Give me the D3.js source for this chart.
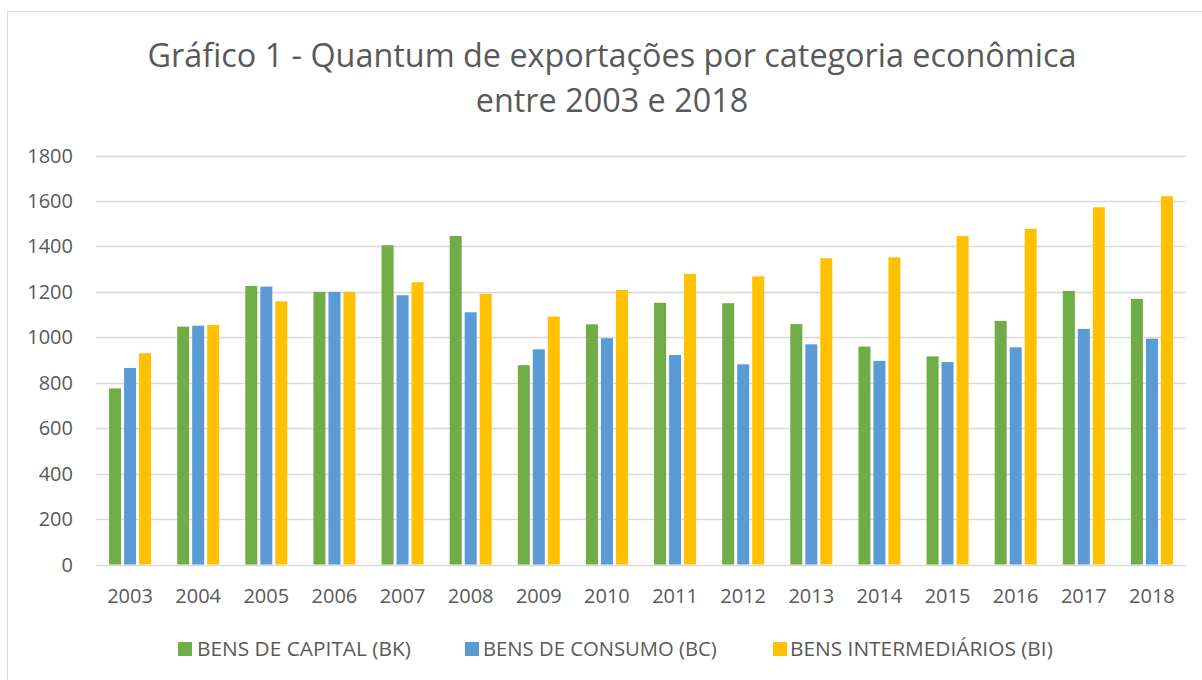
<!DOCTYPE html>
<html>
<head>
<meta charset="utf-8">
<script src="https://cdn.jsdelivr.net/npm/d3@7"></script>
<style>
  html, body { margin: 0; padding: 0; background: #fff; }
  svg { display: block; }
  text { font-family: "Open Sans", "DejaVu Sans", sans-serif; fill: #595959; }
</style>
</head>
<body>
<svg id="chart" width="1202" height="680"></svg>
<script>
const years = ["2003","2004","2005","2006","2007","2008","2009","2010","2011","2012","2013","2014","2015","2016","2017","2018"];
const seriesNames = ["BENS DE CAPITAL (BK)", "BENS DE CONSUMO (BC)", "BENS INTERMEDIÁRIOS (BI)"];
const bk = [775, 1047, 1226, 1200, 1405, 1446, 877, 1057, 1152, 1150, 1058, 959, 916, 1072, 1204, 1169];
const bc = [865, 1051, 1223, 1200, 1185, 1110, 947, 996, 922, 881, 969, 896, 891, 956, 1037, 994];
const bi = [930, 1054, 1158, 1200, 1242, 1191, 1091, 1208, 1279, 1268, 1348, 1352, 1445, 1477, 1572, 1621];
const yTicks = [0, 200, 400, 600, 800, 1000, 1200, 1400, 1600, 1800];
const colors = ["#70ad47", "#5b9bd5", "#ffc000"];
const titleLines = ["Gráfico 1 - Quantum de exportações por categoria econômica", "entre 2003 e 2018"];

const seriesData = [bk, bc, bi];
const svg = d3.select("#chart");

// chart border (cropped on right and bottom)
svg.append("rect").attr("x", 7.5).attr("y", 11.5).attr("width", 1220).attr("height", 700)
  .attr("fill", "#fff").attr("stroke", "#d9d9d9").attr("stroke-width", 1);

const plot = { left: 96, right: 1186, top: 155.5, bottom: 564.5 };

const x = d3.scaleBand().domain(years).range([plot.left, plot.right]).padding(0);
const y = d3.scaleLinear().domain([0, 1800]).range([plot.bottom, plot.top]);

const groupRatio = 45 / 68.125;
const inner = d3.scaleBand().domain(d3.range(3)).range([0, x.bandwidth() * groupRatio]);
const groupOffset = (x.bandwidth() - x.bandwidth() * groupRatio) / 2;

// gridlines
svg.append("g").selectAll("line").data(yTicks).join("line")
  .attr("x1", plot.left).attr("x2", plot.right)
  .attr("y1", d => Math.round(y(d)) + 0.5).attr("y2", d => Math.round(y(d)) + 0.5)
  .attr("stroke", "#d9d9d9").attr("stroke-width", 1.5);

// y labels
svg.append("g").selectAll("text").data(yTicks).join("text")
  .attr("x", 73).attr("y", d => y(d)).attr("dy", "0.35em")
  .attr("text-anchor", "end").attr("font-size", 20).text(d => d);

// bars
const gap = 3;
seriesData.forEach((vals, si) => {
  svg.append("g").selectAll("rect").data(vals.map((v, i) => ({ year: years[i], v })))
    .join("rect")
    .attr("x", d => x(d.year) + groupOffset + inner(si) + gap / 2)
    .attr("width", inner.bandwidth() - gap)
    .attr("y", d => y(d.v))
    .attr("height", d => y(0) - y(d.v))
    .attr("fill", colors[si]);
});

// x labels
svg.append("g").selectAll("text").data(years).join("text")
  .attr("x", d => x(d) + x.bandwidth() / 2).attr("y", 596).attr("dy", "0.35em")
  .attr("text-anchor", "middle").attr("font-size", 20).text(d => d);

// fit helper
function fitText(sel, targetWidth, startSize) {
  sel.attr("font-size", startSize);
  const w = sel.node().getComputedTextLength();
  sel.attr("font-size", startSize * targetWidth / w);
}

// title
const t1 = svg.append("text").attr("x", 612).attr("y", 67).attr("text-anchor", "middle").text(titleLines[0]);
fitText(t1, 929, 30);
const t2 = svg.append("text").attr("x", 612).attr("y", 112).attr("text-anchor", "middle").text(titleLines[1]);
t2.attr("font-size", t1.attr("font-size"));

// legend
const legendItems = [
  { sx: 178, tx: 197, w: 214 },
  { sx: 465, tx: 483, w: 234 },
  { sx: 773, tx: 790, w: 263 }
];
const lg = svg.append("g");
seriesNames.forEach((name, i) => {
  const it = legendItems[i];
  lg.append("rect").attr("x", it.sx).attr("y", 642).attr("width", 14).attr("height", 14).attr("fill", colors[i]);
  const t = lg.append("text").attr("x", it.tx).attr("y", 649).attr("dy", "0.35em").text(name);
  fitText(t, it.w, 18);
});
</script>
</body>
</html>
